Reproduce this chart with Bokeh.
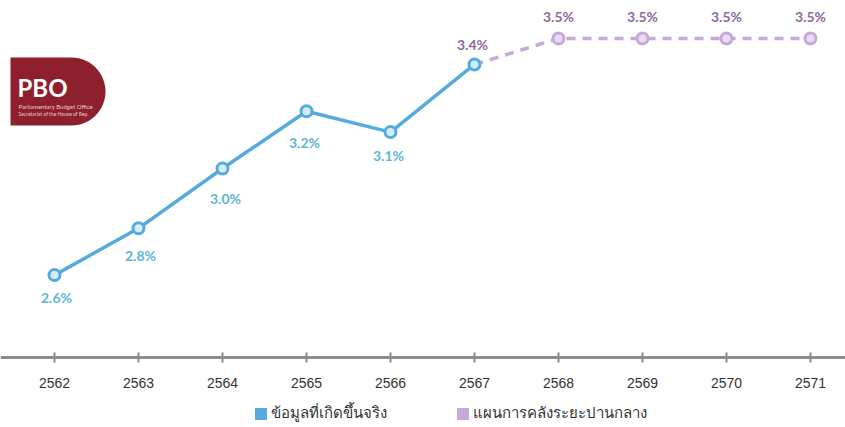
from bokeh.plotting import figure
from bokeh.models import (Range1d, LinearAxis, FixedTicker, Legend, LegendItem,
                          ColumnDataSource, PolyAnnotation, Label)
from bokeh.core.properties import value
from bokeh.embed import file_html
from bokeh.resources import INLINE
import numpy as np

# ---- data ----
years = [2562, 2563, 2564, 2565, 2566, 2567, 2568, 2569, 2570, 2571]
actual_years = [2562, 2563, 2564, 2565, 2566, 2567]
actual_vals = [2.59, 2.77, 3.00, 3.22, 3.14, 3.40]
actual_labels = ["2.6%", "2.8%", "3.0%", "3.2%", "3.1%", "3.4%"]
plan_years = [2567, 2568, 2569, 2570, 2571]
plan_vals = [3.40, 3.50, 3.50, 3.50, 3.50]
plan_labels = ["3.5%", "3.5%", "3.5%", "3.5%"]
legend_labels = ["ข้อมูลที่เกิดขึ้นจริง", "แผนการคลังระยะปานกลาง"]

# ---- styles ----
BLUE = "#55acdc"
BLUE_TXT = "#5cb6d6"
BLUE_FILL = "#d4ecf8"
PURPLE = "#c6a8db"
PURPLE_TXT = "#8e6a9e"
PURPLE_FILL = "#e9dcf2"

AXIS_Y = 2.273
p = figure(width=845, height=427, output_backend="svg", toolbar_location=None,
           x_range=Range1d(2561.357, 2571.417), y_range=Range1d(2.004, 3.646),
           min_border_left=0, min_border_right=0, min_border_top=0, min_border_bottom=0,
           x_axis_location=None, y_axis_location=None)
p.outline_line_color = None
p.xgrid.visible = False
p.ygrid.visible = False
p.background_fill_color = "white"
p.border_fill_color = "white"

# ---- logo (decoration, screen units) ----
th = np.linspace(np.pi / 2, -np.pi / 2, 30)
cx, cy, r = 71, 336, 34
xs = [10] + list(cx + r * np.cos(th)) + [10]
ys = [cy + r] + list(cy + r * np.sin(th)) + [cy - r]
p.add_layout(PolyAnnotation(xs=xs, ys=ys, xs_units="screen", ys_units="screen",
                            fill_color="#8e1f2c", fill_alpha=1, line_color=None))
p.add_layout(Label(x=17, y=326, x_units="screen", y_units="screen", text="PBO",
                   text_color="white", text_font="Lato", text_font_style="bold",
                   text_font_size="24px"))
p.add_layout(Label(x=18, y=318, x_units="screen", y_units="screen",
                   text="Parliamentary Budget Office",
                   text_color="#e8c8cc", text_font="Lato", text_font_size="6px"))
p.add_layout(Label(x=18, y=311, x_units="screen", y_units="screen",
                   text="Secretariat of the House of Rep.",
                   text_color="#e8c8cc", text_font="Lato", text_font_size="5px"))

# ---- lines ----
r_act = p.line(actual_years, actual_vals, line_color=BLUE, line_width=3.5)
r_plan = p.line(plan_years, plan_vals, line_color=PURPLE, line_width=3.5, line_dash="9 7")
p.scatter(plan_years[1:], plan_vals[1:], size=11, line_color=PURPLE, line_width=3,
          fill_color=PURPLE_FILL)
p.scatter(actual_years, actual_vals, size=11, line_color=BLUE, line_width=3,
          fill_color=BLUE_FILL)

# ---- value labels ----
act_dx = [2, 2, 3, -2, -2, -2]
act_dy = [22, 27, 30, 31, 23, -20]
act_col = [BLUE_TXT] * 5 + [PURPLE_TXT]
src_a = ColumnDataSource(dict(x=actual_years, y=actual_vals, t=actual_labels,
                              dx=act_dx, dy=act_dy, c=act_col))
p.text("x", "y", text="t", x_offset="dx", y_offset="dy", text_color="c", source=src_a,
       text_align="center", text_baseline="middle", text_font=value("Lato"),
       text_font_style="bold", text_font_size="14px")
src_p = ColumnDataSource(dict(x=plan_years[1:], y=plan_vals[1:], t=plan_labels))
p.text("x", "y", text="t", x_offset=0, y_offset=-22, source=src_p, text_color=PURPLE_TXT,
       text_align="center", text_baseline="middle", text_font=value("Lato"),
       text_font_style="bold", text_font_size="14px")

# ---- x axis (fixed inside frame) ----
ax = LinearAxis(ticker=FixedTicker(ticks=years), fixed_location=AXIS_Y)
ax.axis_line_color = "#8c8c8c"
ax.axis_line_width = 3
ax.major_tick_line_color = "#8c8c8c"
ax.major_tick_line_width = 2
ax.major_tick_in = 5
ax.major_tick_out = 5
ax.minor_tick_line_color = None
ax.major_label_standoff = 15
ax.major_label_text_font = "Liberation Sans"
ax.major_label_text_font_size = "14px"
ax.major_label_text_color = "#333333"
p.add_layout(ax, "below")

# ---- legend swatches: zero-area quads (invisible in plot) ----
x0, y0 = actual_years[0], actual_vals[0]
r_sq1 = p.quad(left=[x0], right=[x0], top=[y0], bottom=[y0], fill_color=BLUE, line_color=None)
r_sq2 = p.quad(left=[x0], right=[x0], top=[y0], bottom=[y0], fill_color=PURPLE, line_color=None)
leg = Legend(items=[LegendItem(label=legend_labels[0], renderers=[r_sq1]),
                    LegendItem(label=legend_labels[1], renderers=[r_sq2])],
             orientation="horizontal", location=(253, 2),
             glyph_width=15, glyph_height=15, label_standoff=3, label_width=184,
             label_height=15, spacing=0, padding=4, margin=0, border_line_color=None,
             label_text_font="Noto Sans", label_text_font_size="15px",
             label_text_color="#333333", background_fill_alpha=0)
p.add_layout(leg, "center")

open("out.html", "w").write(file_html(p, INLINE))
